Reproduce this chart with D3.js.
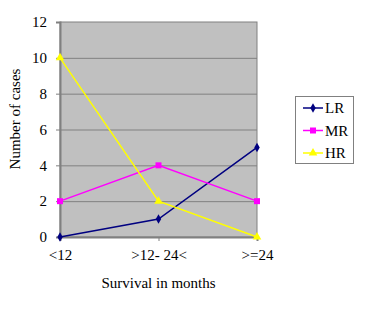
<!DOCTYPE html>
<html>
<head>
<meta charset="utf-8">
<script src="https://cdn.jsdelivr.net/npm/d3@7"></script>
<style>
  body { margin: 0; background: #fff; }
  svg text { fill: #000; }
</style>
</head>
<body>
<div id="chart"></div>
<script>
const categories = ["<12", ">12- 24<", ">=24"];
const seriesNames = ["LR", "MR", "HR"];
const lrValues = [0, 1, 5];
const mrValues = [2, 4, 2];
const hrValues = [10, 2, 0];
const yTicks = [0, 2, 4, 6, 8, 10, 12];

const W = 374, H = 312;
const M = { top: 22, right: 117, bottom: 75, left: 60 };
const FONT = "'Liberation Serif', 'Times New Roman', serif";
const colors = { LR: "#000080", MR: "#ff00ff", HR: "#ffff00" };
const symbols = { LR: d3.symbolDiamond, MR: d3.symbolSquare, HR: d3.symbolTriangle };
const symSize = { LR: 26, MR: 36, HR: 32 };

const series = [
  { name: seriesNames[0], values: lrValues },
  { name: seriesNames[1], values: mrValues },
  { name: seriesNames[2], values: hrValues }
];

const svg = d3.select("#chart").append("svg").attr("width", W).attr("height", H);

const x = d3.scalePoint().domain(categories).range([M.left, W - M.right]);
const y = d3.scaleLinear().domain([0, 12]).range([H - M.bottom, M.top]);

// plot area
svg.append("rect")
  .attr("x", M.left).attr("y", M.top)
  .attr("width", W - M.right - M.left).attr("height", H - M.bottom - M.top)
  .attr("fill", "#c0c0c0").attr("stroke", "#808080").attr("stroke-width", 1);

// gridlines
svg.append("g").selectAll("line").data(yTicks.filter((d) => d > 0 && d < 12)).join("line")
  .attr("x1", M.left).attr("x2", W - M.right)
  .attr("y1", (d) => y(d) + 0.5).attr("y2", (d) => y(d) + 0.5)
  .attr("stroke", "#808080").attr("stroke-width", 1);

// y axis
const gy = svg.append("g").attr("transform", `translate(${M.left},0)`)
  .call(d3.axisLeft(y).tickValues(yTicks).tickSize(4).tickPadding(9));
gy.select(".domain").attr("stroke", "#808080").attr("stroke-width", 2);
gy.selectAll(".tick line").attr("stroke", "#808080");

// x axis
const gx = svg.append("g").attr("transform", `translate(0,${H - M.bottom})`)
  .call(d3.axisBottom(x).tickSize(4).tickPadding(8));
gx.select(".domain").attr("stroke", "#808080").attr("stroke-width", 2);
gx.selectAll(".tick line").attr("stroke", "#808080");

// lines and markers
const line = d3.line().x((d, i) => x(categories[i])).y((d) => y(d));
series.forEach((s) => {
  svg.append("path").datum(s.values)
    .attr("d", line).attr("fill", "none")
    .attr("stroke", colors[s.name]).attr("stroke-width", 1.5);
  svg.append("g").selectAll("path").data(s.values).join("path")
    .attr("transform", (d, i) => `translate(${x(categories[i])},${y(d)})`)
    .attr("d", d3.symbol().type(symbols[s.name]).size(symSize[s.name]))
    .attr("fill", colors[s.name]);
});

// axis titles
svg.append("text").attr("x", (M.left + W - M.right) / 2).attr("y", 288)
  .attr("text-anchor", "middle").text("Survival in months");
svg.append("text").attr("transform", "translate(20,119) rotate(-90)")
  .attr("text-anchor", "middle").text("Number of cases");

// legend
const lg = svg.append("g");
lg.append("rect").attr("x", 295.5).attr("y", 96.5).attr("width", 58).attr("height", 67)
  .attr("fill", "#fff").attr("stroke", "#808080");
series.forEach((s, i) => {
  const ly = 108 + i * 22.5;
  lg.append("line").attr("x1", 303).attr("x2", 323).attr("y1", ly).attr("y2", ly)
    .attr("stroke", colors[s.name]).attr("stroke-width", 1.5);
  lg.append("path").attr("transform", `translate(313,${ly})`)
    .attr("d", d3.symbol().type(symbols[s.name]).size(symSize[s.name]))
    .attr("fill", colors[s.name]);
  lg.append("text").attr("x", 325).attr("y", ly + 5).text(s.name);
});

// one font for every label, including the axis ticks
svg.selectAll("text").style("font-family", FONT).style("font-size", "15px");
</script>
</body>
</html>
